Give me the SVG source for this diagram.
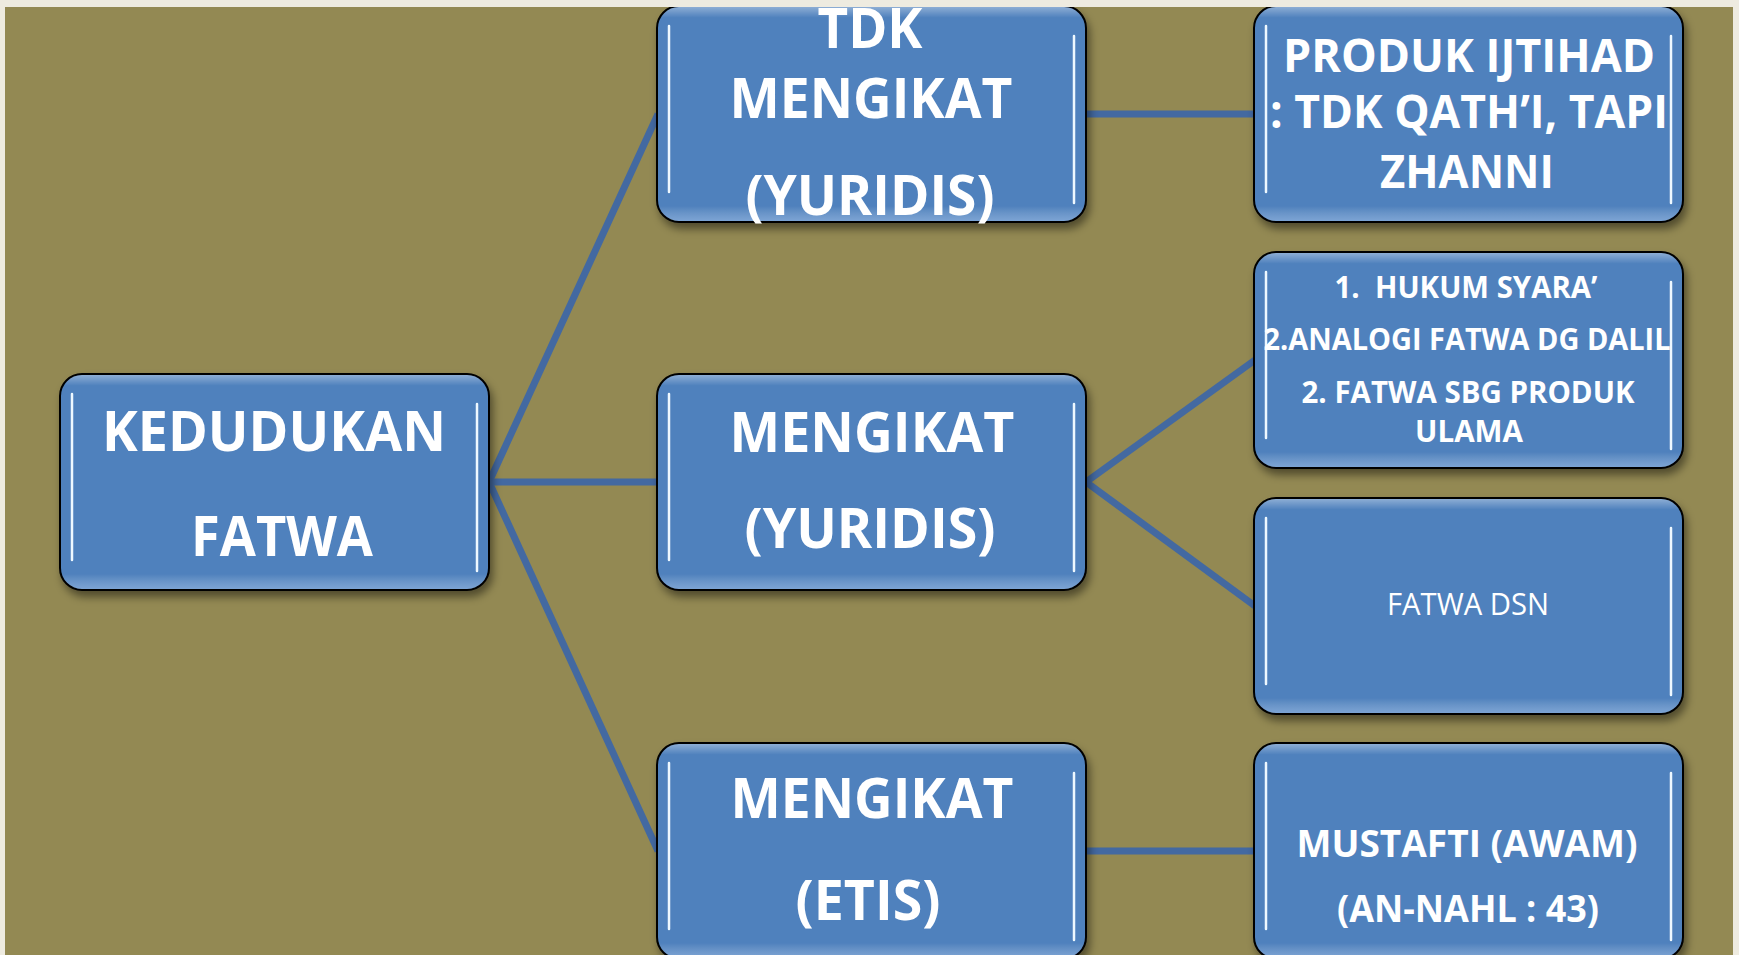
<svg xmlns="http://www.w3.org/2000/svg" width="1739" height="955" viewBox="0 0 1739 955">
<defs>
<filter id="sh" x="-10%" y="-10%" width="125%" height="130%">
<feDropShadow dx="3" dy="6" stdDeviation="4" flood-color="#000" flood-opacity="0.45"/>
</filter>
<filter id="glow" x="-50%" y="-10%" width="200%" height="120%">
<feGaussianBlur stdDeviation="1.2"/>
</filter>
<linearGradient id="bevel" x1="0" y1="0" x2="0" y2="1">
<stop offset="0" stop-color="#ffffff" stop-opacity="0.35"/>
<stop offset="0.05" stop-color="#ffffff" stop-opacity="0"/>
<stop offset="0.93" stop-color="#ffffff" stop-opacity="0"/>
<stop offset="1" stop-color="#cfe3ff" stop-opacity="0.35"/>
</linearGradient>
</defs>
<style>
.box{fill:#4F81BD;stroke:#000;stroke-width:2}
.bev{fill:url(#bevel);stroke:none}
.hl{stroke:#a9d3ff;stroke-width:7;stroke-linecap:round;opacity:0.85}
.hl2{stroke:#eef8ff;stroke-width:2.5;stroke-linecap:round}
.conn{stroke:#4369A1;stroke-width:7;fill:none}
.t{fill:#fff;font-family:"Open Sans","Liberation Sans",sans-serif;font-weight:700;text-anchor:middle}
.r{font-weight:400}
</style>
<rect x="0" y="0" width="1739" height="955" fill="#EEEBE0"/>
<rect x="5" y="7" width="1728" height="948" fill="#938953"/>

<g id="connectors">
<line class="conn" x1="489" y1="482" x2="658" y2="114"/>
<line class="conn" x1="489" y1="482" x2="658" y2="482"/>
<line class="conn" x1="489" y1="482" x2="658" y2="851"/>
<line class="conn" x1="1086" y1="114" x2="1255" y2="114"/>
<line class="conn" x1="1086" y1="482" x2="1255" y2="360"/>
<line class="conn" x1="1086" y1="482" x2="1255" y2="606"/>
<line class="conn" x1="1086" y1="851" x2="1255" y2="851"/>
</g>

<g id="root">
<rect class="box" x="60" y="374" width="429" height="216" rx="22" filter="url(#sh)"/>
<rect class="bev" x="61" y="375" width="427" height="214" rx="21"/>
<line class="hl" x1="72" y1="394" x2="72" y2="560" filter="url(#glow)"/><line class="hl2" x1="72" y1="394" x2="72" y2="560"/>
<line class="hl" x1="477" y1="404" x2="477" y2="571" filter="url(#glow)"/><line class="hl2" x1="477" y1="404" x2="477" y2="571"/>
<text class="t" x="274" y="451" font-size="56" textLength="344" lengthAdjust="spacingAndGlyphs">KEDUDUKAN</text>
<text class="t" x="282" y="556" font-size="56" textLength="182" lengthAdjust="spacingAndGlyphs">FATWA</text>
</g>

<g id="m1">
<rect class="box" x="657" y="6" width="429" height="216" rx="22" filter="url(#sh)"/>
<rect class="bev" x="658" y="7" width="427" height="214" rx="21"/>
<line class="hl" x1="669" y1="26" x2="669" y2="192" filter="url(#glow)"/><line class="hl2" x1="669" y1="26" x2="669" y2="192"/>
<line class="hl" x1="1074" y1="36" x2="1074" y2="203" filter="url(#glow)"/><line class="hl2" x1="1074" y1="36" x2="1074" y2="203"/>
<text class="t" x="870" y="48" font-size="56" textLength="105" lengthAdjust="spacingAndGlyphs">TDK</text>
<text class="t" x="871" y="118" font-size="56" textLength="283" lengthAdjust="spacingAndGlyphs">MENGIKAT</text>
<text class="t" x="870" y="215" font-size="56" textLength="249" lengthAdjust="spacingAndGlyphs">(YURIDIS)</text>
</g>

<g id="m2">
<rect class="box" x="657" y="374" width="429" height="216" rx="22" filter="url(#sh)"/>
<rect class="bev" x="658" y="375" width="427" height="214" rx="21"/>
<line class="hl" x1="669" y1="394" x2="669" y2="560" filter="url(#glow)"/><line class="hl2" x1="669" y1="394" x2="669" y2="560"/>
<line class="hl" x1="1074" y1="404" x2="1074" y2="571" filter="url(#glow)"/><line class="hl2" x1="1074" y1="404" x2="1074" y2="571"/>
<text class="t" x="872" y="452" font-size="56" textLength="285" lengthAdjust="spacingAndGlyphs">MENGIKAT</text>
<text class="t" x="870" y="548" font-size="56" textLength="251" lengthAdjust="spacingAndGlyphs">(YURIDIS)</text>
</g>

<g id="m3">
<rect class="box" x="657" y="743" width="429" height="216" rx="22" filter="url(#sh)"/>
<rect class="bev" x="658" y="744" width="427" height="214" rx="21"/>
<line class="hl" x1="669" y1="763" x2="669" y2="929" filter="url(#glow)"/><line class="hl2" x1="669" y1="763" x2="669" y2="929"/>
<line class="hl" x1="1074" y1="773" x2="1074" y2="940" filter="url(#glow)"/><line class="hl2" x1="1074" y1="773" x2="1074" y2="940"/>
<text class="t" x="872" y="818" font-size="56" textLength="283" lengthAdjust="spacingAndGlyphs">MENGIKAT</text>
<text class="t" x="868" y="920" font-size="56" textLength="145" lengthAdjust="spacingAndGlyphs">(ETIS)</text>
</g>

<g id="r1">
<rect class="box" x="1254" y="6" width="429" height="216" rx="22" filter="url(#sh)"/>
<rect class="bev" x="1255" y="7" width="427" height="214" rx="21"/>
<line class="hl" x1="1266" y1="26" x2="1266" y2="192" filter="url(#glow)"/><line class="hl2" x1="1266" y1="26" x2="1266" y2="192"/>
<line class="hl" x1="1671" y1="36" x2="1671" y2="203" filter="url(#glow)"/><line class="hl2" x1="1671" y1="36" x2="1671" y2="203"/>
<text class="t" x="1469" y="72" font-size="46" textLength="372" lengthAdjust="spacingAndGlyphs">PRODUK IJTIHAD</text>
<text class="t" x="1469" y="128" font-size="46" textLength="398" lengthAdjust="spacingAndGlyphs">: TDK QATH’I, TAPI</text>
<text class="t" x="1467" y="188" font-size="46" textLength="174" lengthAdjust="spacingAndGlyphs">ZHANNI</text>
</g>

<g id="r2">
<rect class="box" x="1254" y="252" width="429" height="216" rx="22" filter="url(#sh)"/>
<rect class="bev" x="1255" y="253" width="427" height="214" rx="21"/>
<line class="hl" x1="1266" y1="272" x2="1266" y2="438" filter="url(#glow)"/><line class="hl2" x1="1266" y1="272" x2="1266" y2="438"/>
<line class="hl" x1="1671" y1="282" x2="1671" y2="449" filter="url(#glow)"/><line class="hl2" x1="1671" y1="282" x2="1671" y2="449"/>
<text class="t" x="1466" y="298" font-size="31" textLength="263" lengthAdjust="spacingAndGlyphs" xml:space="preserve">1.  HUKUM SYARA’</text>
<text class="t" x="1467" y="350" font-size="31" textLength="407" lengthAdjust="spacingAndGlyphs">2.ANALOGI FATWA DG DALIL</text>
<text class="t" x="1468" y="403" font-size="31" textLength="333" lengthAdjust="spacingAndGlyphs">2. FATWA SBG PRODUK</text>
<text class="t" x="1469" y="442" font-size="31" textLength="108" lengthAdjust="spacingAndGlyphs">ULAMA</text>
</g>

<g id="r3">
<rect class="box" x="1254" y="498" width="429" height="216" rx="22" filter="url(#sh)"/>
<rect class="bev" x="1255" y="499" width="427" height="214" rx="21"/>
<line class="hl" x1="1266" y1="518" x2="1266" y2="684" filter="url(#glow)"/><line class="hl2" x1="1266" y1="518" x2="1266" y2="684"/>
<line class="hl" x1="1671" y1="528" x2="1671" y2="695" filter="url(#glow)"/><line class="hl2" x1="1671" y1="528" x2="1671" y2="695"/>
<text class="t r" x="1468" y="615" font-size="31" textLength="162" lengthAdjust="spacingAndGlyphs">FATWA DSN</text>
</g>

<g id="r4">
<rect class="box" x="1254" y="743" width="429" height="216" rx="22" filter="url(#sh)"/>
<rect class="bev" x="1255" y="744" width="427" height="214" rx="21"/>
<line class="hl" x1="1266" y1="763" x2="1266" y2="929" filter="url(#glow)"/><line class="hl2" x1="1266" y1="763" x2="1266" y2="929"/>
<line class="hl" x1="1671" y1="773" x2="1671" y2="940" filter="url(#glow)"/><line class="hl2" x1="1671" y1="773" x2="1671" y2="940"/>
<text class="t" x="1467" y="857" font-size="38" textLength="341" lengthAdjust="spacingAndGlyphs">MUSTAFTI (AWAM)</text>
<text class="t" x="1468" y="922" font-size="38" textLength="262" lengthAdjust="spacingAndGlyphs">(AN-NAHL : 43)</text>
</g>

<rect x="0" y="0" width="1739" height="7" fill="#EEEBE0"/>
<rect x="0" y="0" width="5" height="955" fill="#EEEBE0"/>
<rect x="1733" y="0" width="6" height="955" fill="#EEEBE0"/>
</svg>
